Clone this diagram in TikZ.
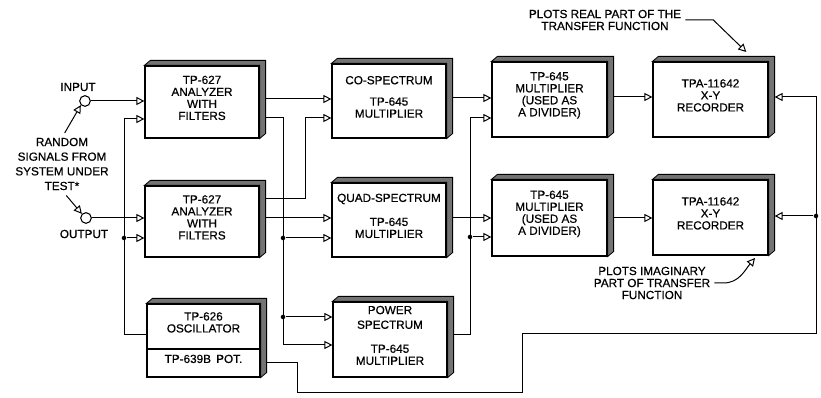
\documentclass[tikz,border=0pt]{standalone}
\usepackage{fontspec}
\setmainfont{Liberation Sans}[FakeBold=0.6]
\usetikzlibrary{arrows.meta,fit}
\tikzset{
  blk/.style={draw, fill=white, inner sep=0pt, line width=0.9pt, align=center,
              font=\fontsize{8.8}{9}\selectfont},
  arr/.style={-{Triangle[open,length=6pt,width=6pt]}, line width=0.75pt},
  jdot/.style={circle, fill=black, inner sep=0pt, minimum size=3.4pt},
  term/.style={circle, draw, fill=white, line width=0.8pt, inner sep=0pt, minimum size=8pt},
  lbl/.style={align=center, inner sep=0pt, font=\fontsize{8.8}{9}\selectfont},
  side/.style={draw, fill=black!55, line width=0.6pt},
}
\newcommand\sidebands[2]{%
  \draw[side] (#1.north west) -- ++(6,-5) -- ([shift={(6,-5)}]#1.north east)
    -- ([shift={(6,-5)}]#2.south east) -- (#2.south east) -- (#1.north east) -- cycle;
  \coordinate (#2r) at ([xshift=4.5pt]#2.east);}
\newcommand\blkbox[6]{%
  \node[blk, fit={(#2,#3) (#4,#5)}] (#1) {#6};
  \sidebands{#1}{#1}}
\begin{document}
\begin{tikzpicture}[x=0.75pt,y=-0.75pt]
\path[fill=white] (0,0) rectangle (821,398);
\useasboundingbox (0,0) rectangle (821,398);

% boxes
\blkbox{a1}{145}{66}{259}{138}{TP-627\\ANALYZER\\WITH\\FILTERS}
\blkbox{a2}{145}{186}{259}{257}{TP-627\\ANALYZER\\WITH\\FILTERS}
\node[blk, fit={(147,304) (260,349)}] (osc) {TP-626\\OSCILLATOR};
\node[blk, fit={(147,349) (260,377)}] (pot) {TP-639B\ \,POT.};
\sidebands{osc}{pot}
\blkbox{co}{332}{64}{446}{138}{CO-SPECTRUM\\[7pt]TP-645\\MULTIPLIER}
\blkbox{qd}{332}{183}{446}{257}{QUAD-SPECTRUM\\[9pt]TP-645\\MULTIPLIER}
\blkbox{pw}{333}{302}{447}{377}{POWER\\[2pt]SPECTRUM\\[9pt]TP-645\\MULTIPLIER}
\blkbox{dv1}{492}{62}{607}{137}{TP-645\\MULTIPLIER\\(USED AS\\A DIVIDER)}
\blkbox{dv2}{492}{180}{607}{256}{TP-645\\MULTIPLIER\\(USED AS\\A DIVIDER)}
\blkbox{rc1}{653}{62}{768}{137}{TPA-11642\\X-Y\\RECORDER}
\blkbox{rc2}{653}{180}{768}{255}{TPA-11642\\X-Y\\RECORDER}

% terminals and labels
\node[term] (in) at (85,101) {};
\node[term] (out) at (86,218) {};
\node[lbl] (inl) at (78,87) {INPUT};
\node[lbl] (outl) at (84,234) {OUTPUT};
\node[lbl] (rnd) at (62,164) {RANDOM\\[2pt]SIGNALS FROM\\[2pt]SYSTEM UNDER\\[2pt]TEST*};
\draw[arr, shorten <=4pt] (rnd.north) -- (in.south west);
\draw[arr, shorten <=5pt] (rnd.south) -- (out.north west);

% input side
\draw[arr] (in.east) -- (a1.west |- in);
\draw[arr] (out.east) -- (a2.west |- out);
\draw[arr] (osc.west |- 0,335) -- (124,335) -- (124,119) -- (a1.west |- 0,119);
\node[jdot] (j1) at (124,238) {};
\draw[arr] (j1) -- (a2.west |- j1);

% analyzers to multipliers
\draw[arr] (a1r |- 0,99) -- (co.west |- 0,99);
\draw[arr] (a1r |- 0,118) -- (283,118) -- (283,345) -- (pw.west |- 0,345);
\node[jdot] (j2) at (283,238) {};
\node[jdot] (j3) at (283,317) {};
\draw[arr] (j2) -- (qd.west |- j2);
\draw[arr] (j3) -- (pw.west |- j3);
\draw[arr] (a2r |- 0,199) -- (305,199) -- (305,118) -- (co.west |- 0,118);
\draw[arr] (a2r |- 0,218) -- (qd.west |- 0,218);

% multipliers to dividers
\draw[arr] (cor |- 0,98) -- (dv1.west |- 0,98);
\draw[arr] (qdr |- 0,218) -- (dv2.west |- 0,218);
\draw[arr] (pwr |- 0,335) -- (470,335) -- (470,118) -- (dv1.west |- 0,118);
\node[jdot] (j4) at (470,237) {};
\draw[arr] (j4) -- (dv2.west |- j4);

% dividers to recorders
\draw[arr] (dv1r |- 0,97) -- (rc1.west |- 0,97);
\draw[arr] (dv2r |- 0,218) -- (rc2.west |- 0,218);

% pot feedback
\draw[arr] (potr |- 0,363) -- (297,363) -- (297,393) -- (522,393) -- (522,334)
  -- (816,334) -- (816,97) -- (rc1r |- 0,97);
\node[jdot] (j5) at (816,216) {};
\draw[arr] (j5) -- (rc2r |- j5);

% annotations
\node[lbl] (real) at (605,20) {PLOTS REAL PART OF THE\\TRANSFER FUNCTION};
\draw[arr] ([xshift=3pt]real.east) -- ++(28,0) -- ++(33,32);
\node[lbl] (imag) at (652,283) {PLOTS IMAGINARY\\PART OF TRANSFER\\FUNCTION};
\coordinate (imtip) at (755,258);
\draw[arr] ([xshift=3pt]imag.east) -- ++(9,0) to[out=0,in=-130] (imtip);
\end{tikzpicture}
\end{document}
